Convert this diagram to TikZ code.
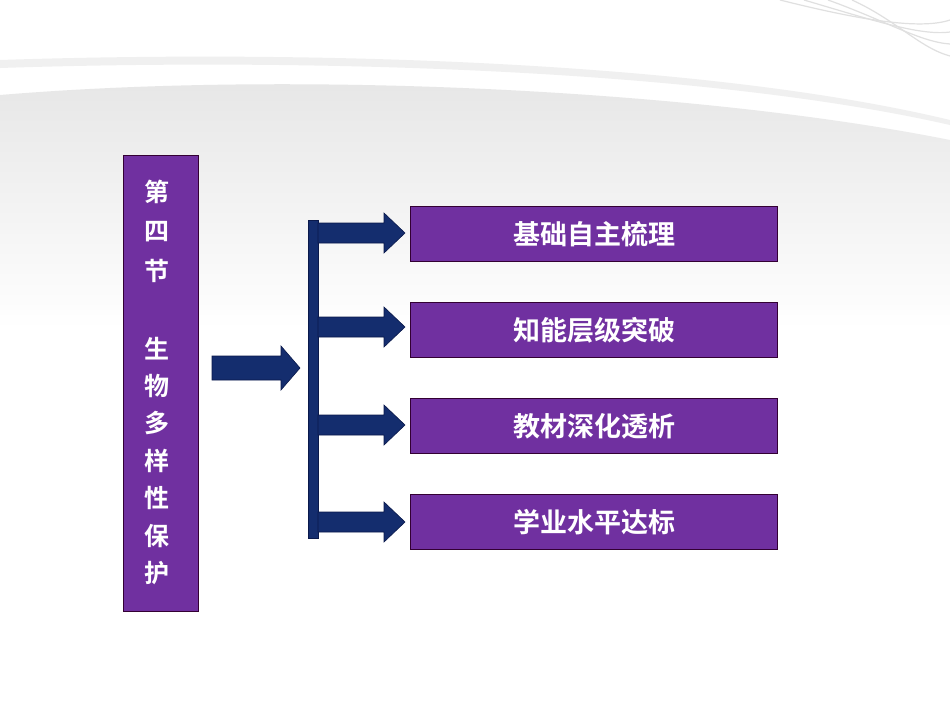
\documentclass[tikz,border=0pt]{standalone}
\usepackage{fontspec}
\newfontfamily\cjk[BoldFont={Noto Sans CJK SC Bold}]{Noto Sans CJK SC}
\begin{document}
\begin{tikzpicture}[x=1pt,y=-1pt,
  box/.style={draw=black!60!violet,line width=1pt,fill={rgb,255:red,112;green,48;blue,160},text=white,inner sep=0pt},
  arr/.style={fill={rgb,255:red,20;green,45;blue,110},draw={rgb,255:red,10;green,25;blue,75},line width=0.6pt}]
\useasboundingbox (0,0) rectangle (950,713);
\fill[white] (0,0) rectangle (950,713);
\shade[top color=black!10,bottom color=white] (0,95) .. controls (300,70) and (700,90) .. (950,140) -- (950,330) -- (0,330) -- cycle;
\fill[black!6] (0,60) .. controls (300,50) and (700,60) .. (950,120) -- (950,125) .. controls (700,68) and (300,58) .. (0,68) -- cycle;
\foreach \d in {0,12,24,36}
  \draw[black!12,line width=1.2pt] (780+\d*2,0) .. controls (860+\d,20) and (920,30+\d/2) .. (950,20+\d);
\node[box,minimum width=75,minimum height=456,anchor=north west] (L) at (123,155) {};
\foreach \c/\y in {第/192,四/232,节/271,生/349,物/386,多/423,样/461,性/498,保/536,护/573}
  \node[text=white,font=\cjk\bfseries\fontsize{25}{25}\selectfont] at (157,\y) {\c};
\foreach \i/\t/\y in {a/基础自主梳理/206,b/知能层级突破/302,c/教材深化透析/398,d/学业水平达标/494}
  \node[box,minimum width=367,minimum height=55,anchor=north west,font=\cjk\bfseries\fontsize{27}{27}\selectfont] (\i) at (410,\y) {\t};
\coordinate (bt) at (313,220); \coordinate (bb) at (313,538);
\fill[arr] (308,220) rectangle (318,538);
\foreach \i/\y in {a/233,b/327,c/425,d/522}
  \filldraw[arr] (318,\y-10) -- (384,\y-10) -- (384,\y-20) -- (405,\y) -- (384,\y+20) -- (384,\y+10) -- (318,\y+10) -- cycle;
\filldraw[arr] (212,356) -- (281,356) -- (281,346) -- (300,368) -- (281,390) -- (281,380) -- (212,380) -- cycle;
\end{tikzpicture}
\end{document}
